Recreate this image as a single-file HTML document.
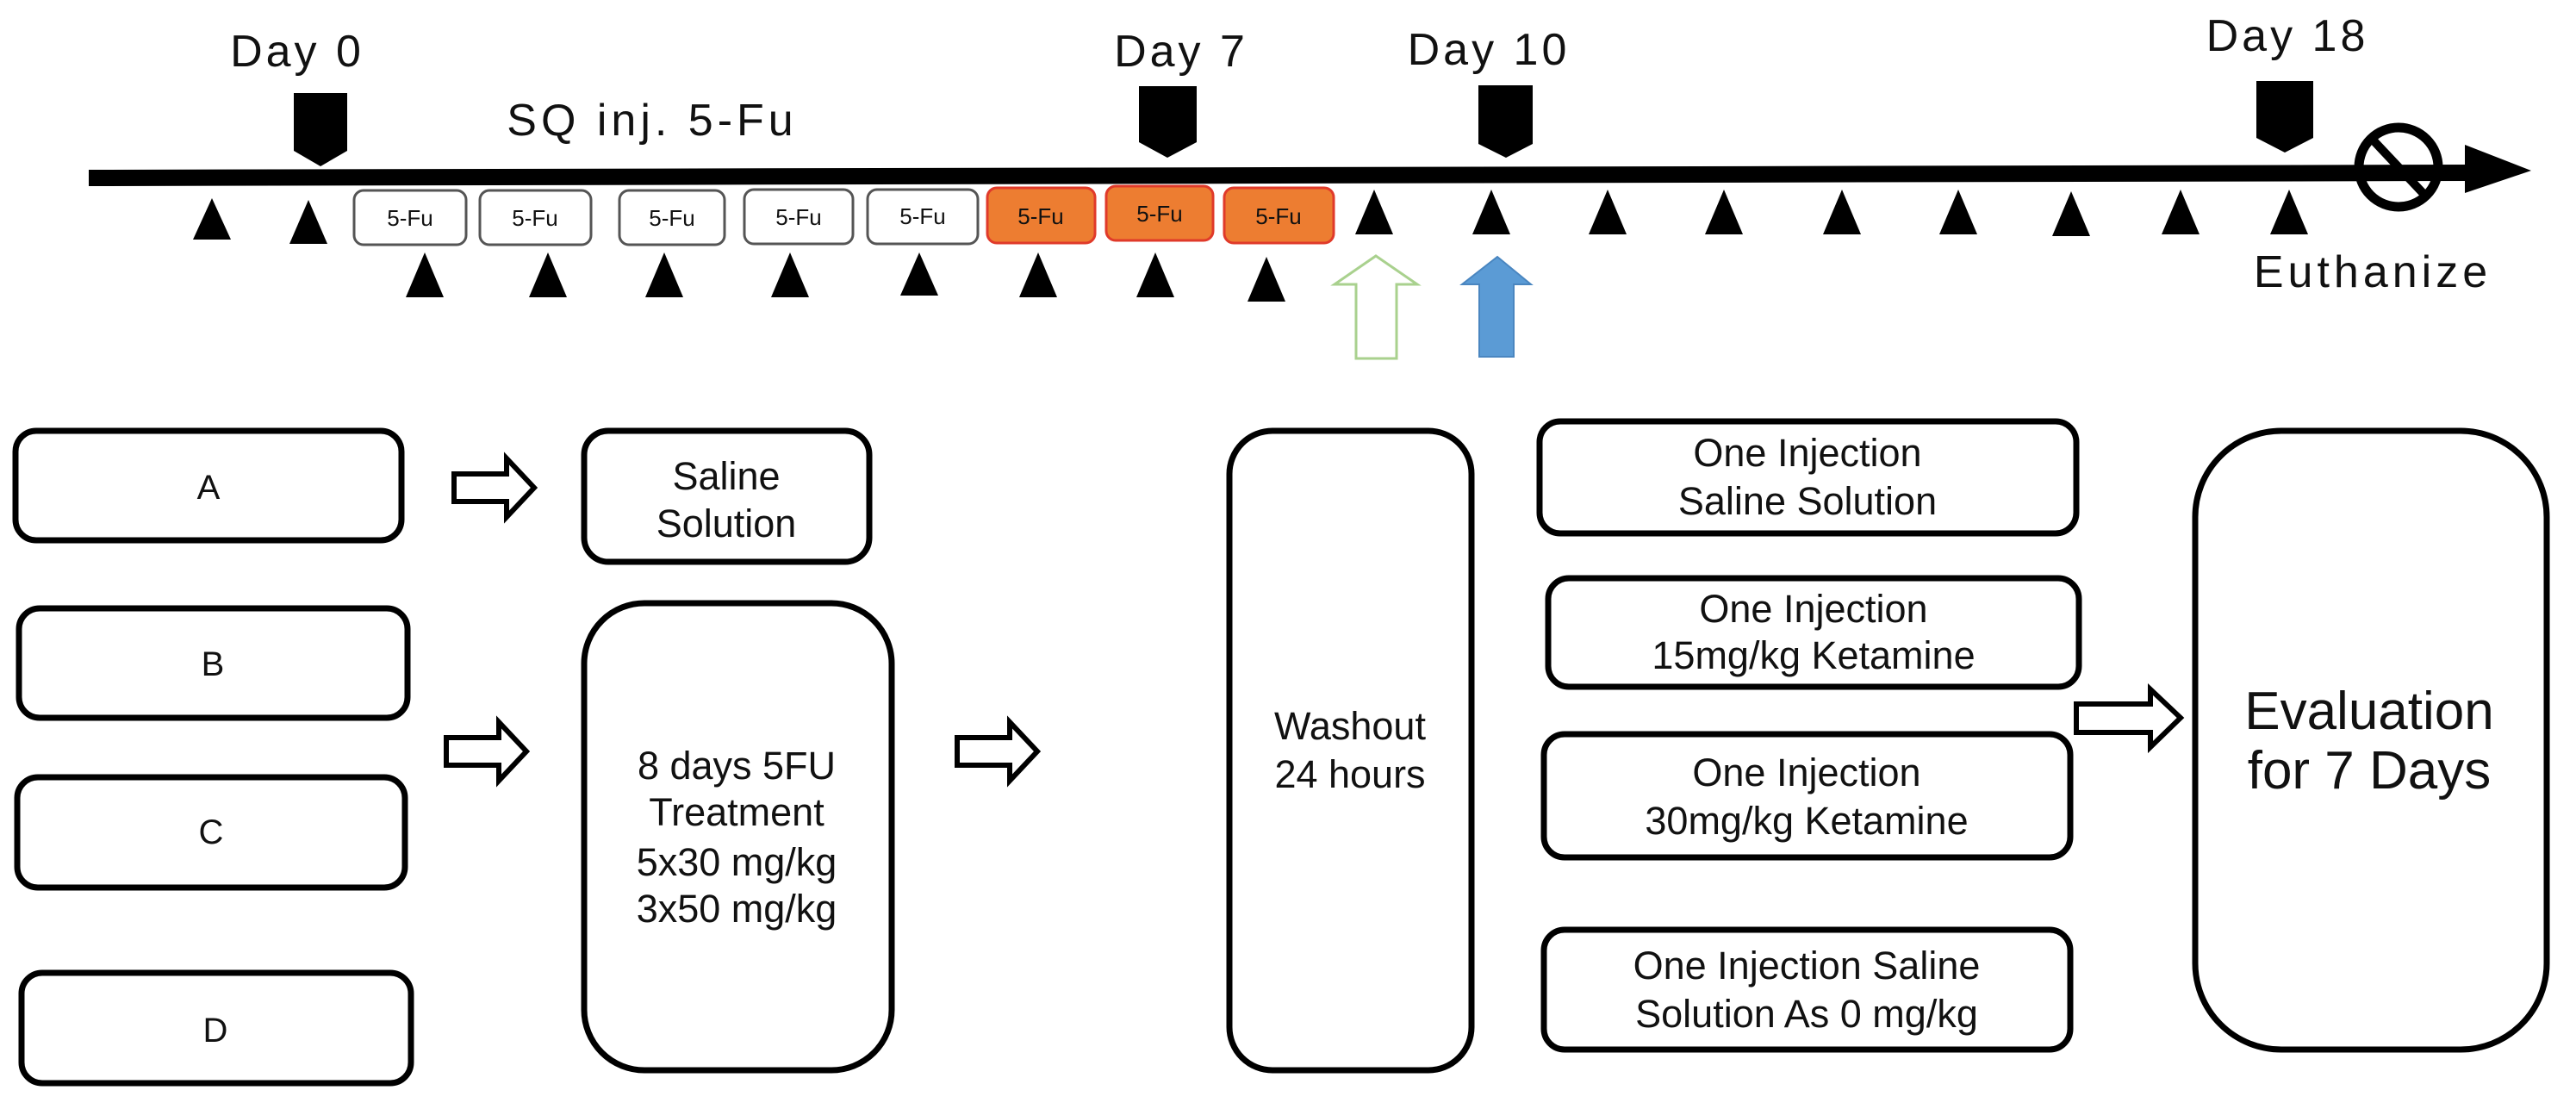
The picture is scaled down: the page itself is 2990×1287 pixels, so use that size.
<!DOCTYPE html>
<html><head><meta charset="utf-8"><style>
html,body{margin:0;padding:0;background:#fff;}
svg{display:block;}
text{font-family:"Liberation Sans",sans-serif;fill:#111;}
</style></head><body>
<svg width="2990" height="1287" viewBox="0 0 2990 1287" xmlns="http://www.w3.org/2000/svg">
<!-- timeline -->
<polygon points="103,197 2870,191 2870,210 103,216" fill="#000"/>
<polygon points="2861,168 2938,198 2861,224" fill="#000"/>
<circle cx="2784" cy="194" r="46" fill="none" stroke="#000" stroke-width="11"/>
<line x1="2752" y1="160" x2="2816" y2="228" stroke="#000" stroke-width="10"/>
<!-- markers -->
<polygon points="341,108 403,108 403,175 372,193 341,175" fill="#000"/>
<polygon points="1322,100 1389,100 1389,165 1355,183 1322,165" fill="#000"/>
<polygon points="1716,99 1779,99 1779,167 1748,183 1716,167" fill="#000"/>
<polygon points="2619,94 2685,94 2685,160 2652,177 2619,160" fill="#000"/>
<!-- labels -->
<g font-size="52" letter-spacing="4" text-anchor="middle">
<text x="345" y="77">Day 0</text>
<text x="1371" y="77">Day 7</text>
<text x="1728" y="75">Day 10</text>
<text x="2655" y="59">Day 18</text>
</g>
<text x="757" y="157" font-size="52" letter-spacing="5" text-anchor="middle">SQ inj. 5-Fu</text>
<text x="2754" y="333" font-size="52" letter-spacing="5" text-anchor="middle">Euthanize</text>
<!-- 5-Fu boxes -->
<g stroke="#555" stroke-width="3" fill="#fff">
<rect x="411" y="221" width="130" height="63" rx="11"/>
<rect x="557" y="221" width="129" height="63" rx="11"/>
<rect x="719" y="221" width="122" height="63" rx="11"/>
<rect x="864" y="220" width="126" height="63" rx="11"/>
<rect x="1007" y="220" width="128" height="63" rx="11"/>
</g>
<g stroke="#E03A2A" stroke-width="3" fill="#ED7D31">
<rect x="1146" y="218" width="125" height="64" rx="11"/>
<rect x="1284" y="216" width="124" height="63" rx="11"/>
<rect x="1421" y="218" width="127" height="64" rx="11"/>
</g>
<g font-size="26" text-anchor="middle">
<text x="476" y="262" fill="#444">5-Fu</text>
<text x="621" y="262" fill="#444">5-Fu</text>
<text x="780" y="262" fill="#444">5-Fu</text>
<text x="927" y="261" fill="#444">5-Fu</text>
<text x="1071" y="260" fill="#444">5-Fu</text>
<text x="1208" y="260">5-Fu</text>
<text x="1346" y="257">5-Fu</text>
<text x="1484" y="260">5-Fu</text>
</g>
<!-- triangles row 1 -->
<g fill="#000">
<polygon points="246,230 268,278 224,278"/>
<polygon points="358,232 380,283 336,283"/>
<polygon points="1595,220 1617,272 1573,272"/>
<polygon points="1731,220 1753,272 1709,272"/>
<polygon points="1866,220 1888,272 1844,272"/>
<polygon points="2001,220 2023,272 1979,272"/>
<polygon points="2138,220 2160,272 2116,272"/>
<polygon points="2273,220 2295,272 2251,272"/>
<polygon points="2404,222 2426,274 2382,274"/>
<polygon points="2531,220 2553,272 2509,272"/>
<polygon points="2657,220 2679,272 2635,272"/>
<!-- row 2 -->
<polygon points="493,293 515,345 471,345"/>
<polygon points="636,293 658,345 614,345"/>
<polygon points="771,293 793,345 749,345"/>
<polygon points="917,293 939,345 895,345"/>
<polygon points="1067,293 1089,343 1045,343"/>
<polygon points="1205,293 1227,345 1183,345"/>
<polygon points="1341,293 1363,345 1319,345"/>
<polygon points="1470,298 1492,350 1448,350"/>
</g>
<!-- up arrows -->
<polygon points="1597,297 1645,330 1621,330 1621,416 1574,416 1574,330 1549,330" fill="#fff" stroke="#A9D18E" stroke-width="3"/>
<polygon points="1738,298 1777,330 1757,330 1757,414 1717,414 1717,330 1697,330" fill="#5B9BD5" stroke="#4a86c0" stroke-width="2"/>
<!-- bottom boxes -->
<g fill="#fff" stroke="#000" stroke-width="7">
<rect x="18" y="500" width="448" height="127" rx="24"/>
<rect x="22" y="706" width="451" height="127" rx="24"/>
<rect x="20" y="902" width="450" height="128" rx="24"/>
<rect x="25" y="1129" width="452" height="128" rx="24"/>
<rect x="678" y="500" width="331" height="152" rx="28"/>
<rect x="678" y="700" width="357" height="542" rx="70"/>
<rect x="1427" y="500" width="281" height="742" rx="50"/>
<rect x="1787" y="489" width="623" height="130" rx="24"/>
<rect x="1797" y="671" width="616" height="126" rx="24"/>
<rect x="1792" y="852" width="611" height="143" rx="24"/>
<rect x="1792" y="1079" width="611" height="139" rx="24"/>
<rect x="2548" y="500" width="408" height="718" rx="100"/>
</g>
<!-- block arrows -->
<g fill="#fff" stroke="#000" stroke-width="6">
<polygon points="527,550 588,550 588,532 620,566 588,600 588,582 527,582"/>
<polygon points="518,856 579,856 579,838 611,872 579,906 579,888 518,888"/>
<polygon points="1111,856 1172,856 1172,838 1204,872 1172,906 1172,888 1111,888"/>
<polygon points="2410,817 2496,817 2496,800 2531,833 2496,867 2496,850 2410,850"/>
</g>
<g font-size="40" text-anchor="middle">
<text x="242" y="579">A</text>
<text x="247" y="784">B</text>
<text x="245" y="979">C</text>
<text x="250" y="1209">D</text>
</g>
<g font-size="45" text-anchor="middle">
<text x="843" y="568">Saline</text>
<text x="843" y="623">Solution</text>
<text x="855" y="904">8 days 5FU</text>
<text x="855" y="958">Treatment</text>
<text x="855" y="1016">5x30 mg/kg</text>
<text x="855" y="1070">3x50 mg/kg</text>
<text x="1567" y="858">Washout</text>
<text x="1567" y="914">24 hours</text>
<text x="2098" y="541">One Injection</text>
<text x="2098" y="597">Saline Solution</text>
<text x="2105" y="722">One Injection</text>
<text x="2105" y="776">15mg/kg Ketamine</text>
<text x="2097" y="912">One Injection</text>
<text x="2097" y="968">30mg/kg Ketamine</text>
<text x="2097" y="1136">One Injection Saline</text>
<text x="2097" y="1192">Solution As 0 mg/kg</text>
</g>
<g font-size="62" text-anchor="middle">
<text x="2750" y="846">Evaluation</text>
<text x="2750" y="915">for 7 Days</text>
</g>
</svg>
</body></html>
